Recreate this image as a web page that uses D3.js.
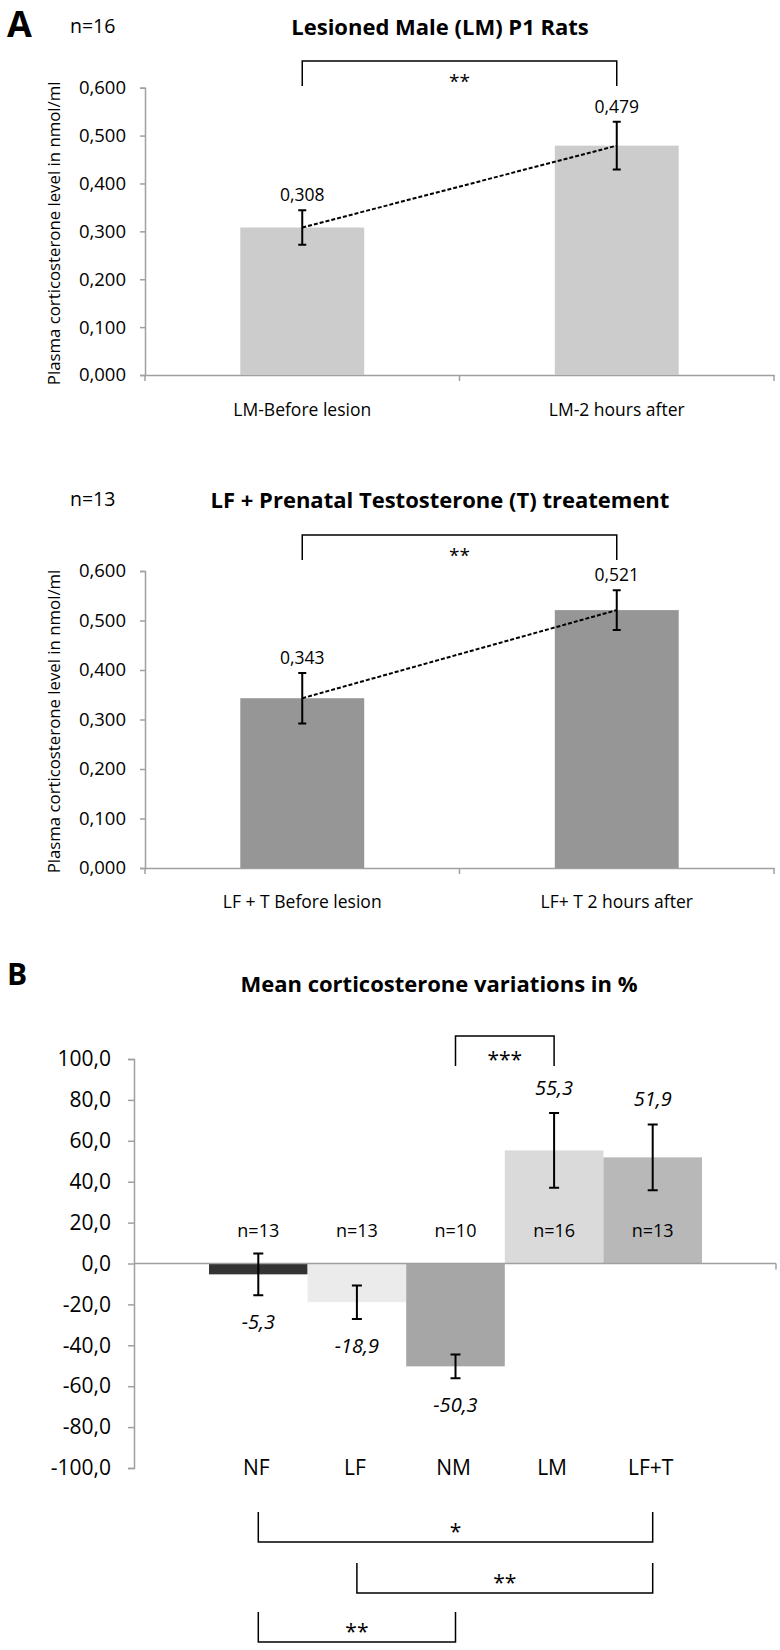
<!DOCTYPE html>
<html><head><meta charset="utf-8">
<script src="https://cdn.jsdelivr.net/npm/d3@7"></script>
<style>
html,body{margin:0;padding:0;background:#fff;}
text{font-family:"Open Sans",sans-serif;}
</style></head>
<body>
<svg id="chart" width="780" height="1650"></svg>
<script>
// ---------- DATA ----------
const catsA1 = ["LM-Before lesion", "LM-2 hours after"];
const valsA1 = [0.308, 0.479];
const errA1 = [0.036, 0.050];
const labelsA1 = ["0,308", "0,479"];

const catsA2 = ["LF + T Before lesion", "LF+ T 2 hours after"];
const valsA2 = [0.343, 0.521];
const errA2 = [0.051, 0.040];
const labelsA2 = ["0,343", "0,521"];

const ticksA = [0, 0.1, 0.2, 0.3, 0.4, 0.5, 0.6];
const tickLabelsA = ["0,000", "0,100", "0,200", "0,300", "0,400", "0,500", "0,600"];

const catsB = ["NF", "LF", "NM", "LM", "LF+T"];
const valsB = [-5.3, -18.9, -50.3, 55.3, 51.9];
const errB = [10.2, 8.2, 5.8, 18.3, 16.1];
const labelsB = ["-5,3", "-18,9", "-50,3", "55,3", "51,9"];
const nB = ["n=13", "n=13", "n=10", "n=16", "n=13"];
const colorsB = ["#333333", "#ebebeb", "#a6a6a6", "#dadada", "#b8b8b8"];
const ticksB = [-100, -80, -60, -40, -20, 0, 20, 40, 60, 80, 100];
const tickLabelsB = ["-100,0", "-80,0", "-60,0", "-40,0", "-20,0", "0,0", "20,0", "40,0", "60,0", "80,0", "100,0"];
const bracketsB = [
  {a: "NF", b: "LF+T", label: "*"},
  {a: "LF", b: "LF+T", label: "**"},
  {a: "NF", b: "NM", label: "**"}
];

// ---------- DRAW ----------
const svg = d3.select("#chart");
const AXIS = "#a0a0a0";

function panelA(cfg) {
  const g = svg.append("g");
  const x = d3.scaleBand().domain(cfg.cats).range([145, 774]).paddingInner(0.606).paddingOuter(0.303);
  const xs = d3.scaleBand().domain(cfg.cats).range([145, 774]);
  const y = d3.scaleLinear().domain([0, 0.6]).range([cfg.y0, cfg.y1]);

  const ya = g.append("g").attr("transform", "translate(145,0)")
    .call(d3.axisLeft(y).tickValues(ticksA).tickFormat((d, i) => tickLabelsA[i]).tickSize(5).tickPadding(14));
  ya.select(".domain").attr("stroke", AXIS).attr("stroke-width", 1.5);
  ya.selectAll(".tick line").attr("stroke", AXIS).attr("stroke-width", 1.5);
  ya.selectAll(".tick text").attr("font-family", "Open Sans").attr("font-size", 18.5).attr("fill", "#000");

  const xa = g.append("g").attr("transform", `translate(0,${cfg.y0})`)
    .call(d3.axisBottom(xs).tickSize(0).tickFormat(""));
  xa.select(".domain").attr("stroke", AXIS).attr("stroke-width", 1.5);
  const bounds = [145, 145 + xs.step(), 774];
  g.selectAll(".bt").data(bounds).join("line")
    .attr("x1", d => d).attr("x2", d => d).attr("y1", cfg.y0).attr("y2", cfg.y0 + 6)
    .attr("stroke", AXIS).attr("stroke-width", 1.5);

  g.selectAll(".bar").data(cfg.vals).join("rect")
    .attr("x", (d, i) => x(cfg.cats[i])).attr("width", x.bandwidth())
    .attr("y", d => y(d)).attr("height", d => y(0) - y(d)).attr("fill", cfg.color);

  const cx = i => x(cfg.cats[i]) + x.bandwidth() / 2;
  g.append("path").attr("d", d3.line()(cfg.vals.map((v, i) => [cx(i), y(v)])))
    .attr("stroke", "#000").attr("stroke-width", 2).attr("stroke-dasharray", "4,2").attr("fill", "none");

  cfg.vals.forEach((v, i) => {
    const e = cfg.err[i];
    const path = `M${cx(i)},${y(v + e)}V${y(v - e)}M${cx(i) - 4},${y(v + e)}H${cx(i) + 4}M${cx(i) - 4},${y(v - e)}H${cx(i) + 4}`;
    g.append("path").attr("d", path).attr("stroke", "#000").attr("stroke-width", 2).attr("fill", "none");
    g.append("text").attr("x", cx(i)).attr("y", y(v + e) - 9).attr("text-anchor", "middle")
      .attr("font-size", 17.5).text(cfg.labels[i]);
  });

  cfg.cats.forEach((c, i) => {
    g.append("text").attr("x", cx(i)).attr("y", cfg.xLabelY).attr("text-anchor", "middle")
      .attr("font-size", 17.5).text(c);
  });

  const bt = cfg.bracketTop, bb = bt + 25;
  g.append("path").attr("d", `M${cx(0)},${bb}V${bt}H${cx(1)}V${bb}`)
    .attr("stroke", "#000").attr("stroke-width", 1.5).attr("fill", "none");
  g.append("text").attr("x", (cx(0) + cx(1)) / 2).attr("y", bt + 27).attr("text-anchor", "middle")
    .attr("font-size", 19).text("**");

  g.append("text").attr("x", 440).attr("y", cfg.titleY).attr("text-anchor", "middle")
    .attr("font-size", 22).attr("font-weight", "bold").text(cfg.title);
  g.append("text").attr("x", 70).attr("y", cfg.titleY - 2).attr("font-size", 19.5).text(cfg.n);

  g.append("text").attr("transform", `translate(60,${(cfg.y0 + cfg.y1) / 2 + 2}) rotate(-90)`)
    .attr("text-anchor", "middle").attr("font-size", 16.8).text("Plasma corticosterone level in nmol/ml");
}

panelA({cats: catsA1, vals: valsA1, err: errA1, labels: labelsA1, color: "#cccccc",
  y0: 375, y1: 87.7, xLabelY: 416, bracketTop: 61, titleY: 35,
  title: "Lesioned Male (LM) P1 Rats", n: "n=16"});
panelA({cats: catsA2, vals: valsA2, err: errA2, labels: labelsA2, color: "#969696",
  y0: 868, y1: 571, xLabelY: 908, bracketTop: 535, titleY: 508,
  title: "LF + Prenatal Testosterone (T) treatement", n: "n=13"});

svg.append("text").attr("x", 7).attr("y", 37).attr("font-family", "Liberation Sans")
  .attr("font-weight", "bold").attr("font-size", 36).text("A");
svg.append("text").attr("x", 7).attr("y", 985).attr("font-family", "Liberation Sans")
  .attr("font-weight", "bold").attr("font-size", 30).text("B");

// ---------- PANEL B ----------
(function () {
  const g = svg.append("g");
  const x = d3.scaleBand().domain(catsB).range([209, 702]).padding(0);
  const y = d3.scaleLinear().domain([-100, 100]).range([1468, 1059]);
  const cx = c => x(c) + x.bandwidth() / 2;

  const ya = g.append("g").attr("transform", "translate(134,0)")
    .call(d3.axisLeft(y).tickValues(ticksB).tickFormat((d, i) => tickLabelsB[i]).tickSize(6).tickPadding(17));
  ya.select(".domain").attr("stroke", AXIS).attr("stroke-width", 1.5);
  ya.selectAll(".tick line").attr("stroke", AXIS).attr("stroke-width", 1.5);
  ya.selectAll(".tick text").attr("font-family", "Open Sans").attr("font-size", 21).attr("fill", "#000");

  g.selectAll(".barB").data(valsB).join("rect")
    .attr("x", (d, i) => x(catsB[i])).attr("width", x.bandwidth())
    .attr("y", d => y(Math.max(0, d))).attr("height", d => Math.abs(y(d) - y(0)))
    .attr("fill", (d, i) => colorsB[i]);

  g.append("line").attr("x1", 134).attr("x2", 776).attr("y1", y(0)).attr("y2", y(0))
    .attr("stroke", AXIS).attr("stroke-width", 1.5);
  g.append("line").attr("x1", 776).attr("x2", 776).attr("y1", y(0)).attr("y2", y(0) + 6)
    .attr("stroke", AXIS).attr("stroke-width", 1.5);

  valsB.forEach((v, i) => {
    const c = cx(catsB[i]), e = errB[i];
    g.append("path").attr("d", `M${c},${y(v + e)}V${y(v - e)}M${c - 5},${y(v + e)}H${c + 5}M${c - 5},${y(v - e)}H${c + 5}`)
      .attr("stroke", "#000").attr("stroke-width", 2).attr("fill", "none");
    const ly = v >= 0 ? y(v + e) - 18 : y(v - e) + 34;
    g.append("text").attr("x", c).attr("y", ly).attr("text-anchor", "middle")
      .attr("font-size", 20).attr("font-style", "italic").text(labelsB[i]);
    g.append("text").attr("x", c).attr("y", 1237).attr("text-anchor", "middle")
      .attr("font-size", 18).text(nB[i]);
    g.append("text").attr("x", c - 2).attr("y", 1475).attr("text-anchor", "middle")
      .attr("font-size", 21).text(catsB[i]);
  });

  g.append("path").attr("d", `M${cx("NM")},1066V1036H${cx("LM")}V1066`)
    .attr("stroke", "#000").attr("stroke-width", 1.5).attr("fill", "none");
  g.append("text").attr("x", (cx("NM") + cx("LM")) / 2).attr("y", 1067).attr("text-anchor", "middle")
    .attr("font-size", 21).text("***");

  const tops = [1512, 1563, 1612];
  bracketsB.forEach((b, i) => {
    const t = tops[i], bot = t + 30;
    g.append("path").attr("d", `M${cx(b.a)},${t}V${bot}H${cx(b.b)}V${t}`)
      .attr("stroke", "#000").attr("stroke-width", 1.5).attr("fill", "none");
    g.append("text").attr("x", (cx(b.a) + cx(b.b)) / 2).attr("y", t + 27).attr("text-anchor", "middle")
      .attr("font-size", 21).text(b.label);
  });

  g.append("text").attr("x", 439).attr("y", 992).attr("text-anchor", "middle")
    .attr("font-size", 22).attr("font-weight", "bold").text("Mean corticosterone variations in %");
})();
</script>
</body></html>
